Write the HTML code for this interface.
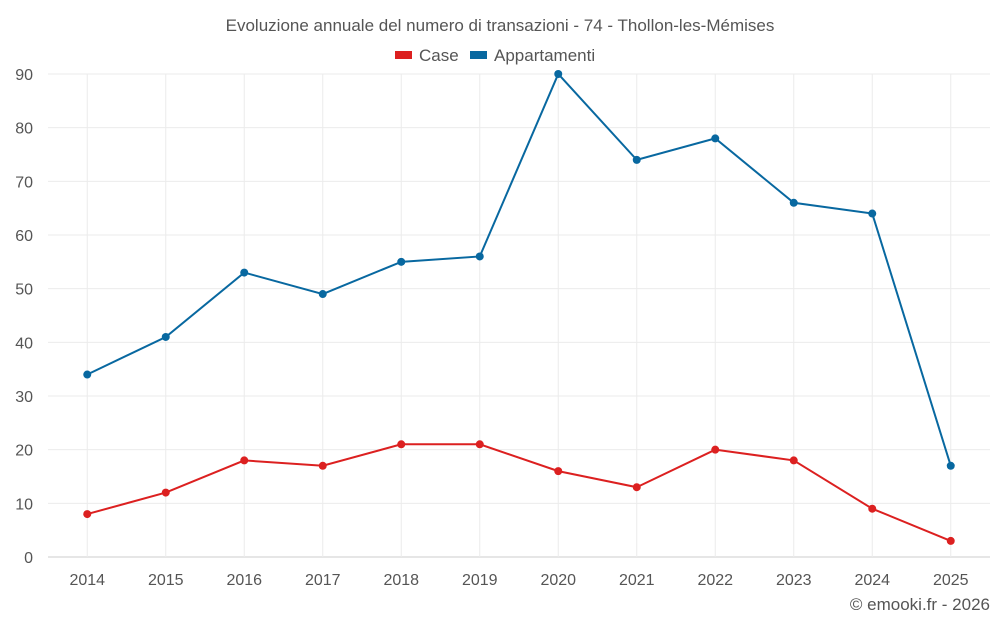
<!DOCTYPE html>
<html><head><meta charset="utf-8"><style>
body{margin:0;background:#fff;font-family:"Liberation Sans",sans-serif}
svg text{font-family:"Liberation Sans",sans-serif}
</style></head><body>
<svg id="c" width="1000" height="625" xmlns="http://www.w3.org/2000/svg">
<text x="500" y="31" text-anchor="middle" font-size="17" fill="#555">Evoluzione annuale del numero di transazioni - 74 - Thollon-les-Mémises</text>
<g>
<rect x="395" y="51" width="17" height="8" fill="#dc2020"/>
<text x="419" y="61" font-size="17" fill="#555">Case</text>
<rect x="470" y="51" width="17" height="8" fill="#0868a0"/>
<text x="494" y="61" font-size="17" fill="#555">Appartamenti</text>
</g>
<g id="grid"></g><g id="axes"></g><g id="series"></g>
<text x="990" y="610" text-anchor="end" font-size="17" fill="#555">© emooki.fr - 2026</text>
</svg>
<script>
const categories=["2014","2015","2016","2017","2018","2019","2020","2021","2022","2023","2024","2025"];
const caseValues=[8,12,18,17,21,21,16,13,20,18,9,3];
const appValues=[34,41,53,49,55,56,90,74,78,66,64,17];
const yTicks=[0,10,20,30,40,50,60,70,80,90];
const L=48,R=990,T=74,B=557,yMax=90;
const bw=(R-L)/categories.length;
const x=i=>L+bw*(i+0.5);
const y=v=>B-(v/yMax)*(B-T);
const NS="http://www.w3.org/2000/svg";
function mk(tag,attrs,parent){const e=document.createElementNS(NS,tag);for(const k in attrs)e.setAttribute(k,attrs[k]);parent.appendChild(e);return e;}
const grid=document.getElementById('grid'),axes=document.getElementById('axes'),series=document.getElementById('series');
yTicks.forEach(t=>{
 const l=mk('line',{x1:L,x2:R,y1:y(t),y2:y(t),stroke:t===0?'#ccc':'#ebebeb','stroke-width':1},grid);
 
 
 const tx=mk('text',{x:33,y:y(t)+6,'text-anchor':'end','font-size':16,fill:'#555'},axes);
 tx.textContent=t;
 
 
});
categories.forEach((c,i)=>{
 const l=mk('line',{x1:x(i),x2:x(i),y1:T,y2:B,stroke:'#ebebeb','stroke-width':1},grid);
 
 
 const tx=mk('text',{x:x(i),y:585,'text-anchor':'middle','font-size':16,fill:'#555'},axes);
 tx.textContent=c;
 
 
});
function draw(vals,color,name){
 const p=mk('polyline',{points:vals.map((v,i)=>x(i)+','+y(v)).join(' '),fill:'none',stroke:color,'stroke-width':2},series);
 
 
 vals.forEach((v,i)=>{
  const c=mk('circle',{cx:x(i),cy:y(v),r:4,fill:color},series);
  
  
 });
}
draw(appValues,'#0868a0','appartamenti');
draw(caseValues,'#dc2020','case');
</script>
</body></html>
